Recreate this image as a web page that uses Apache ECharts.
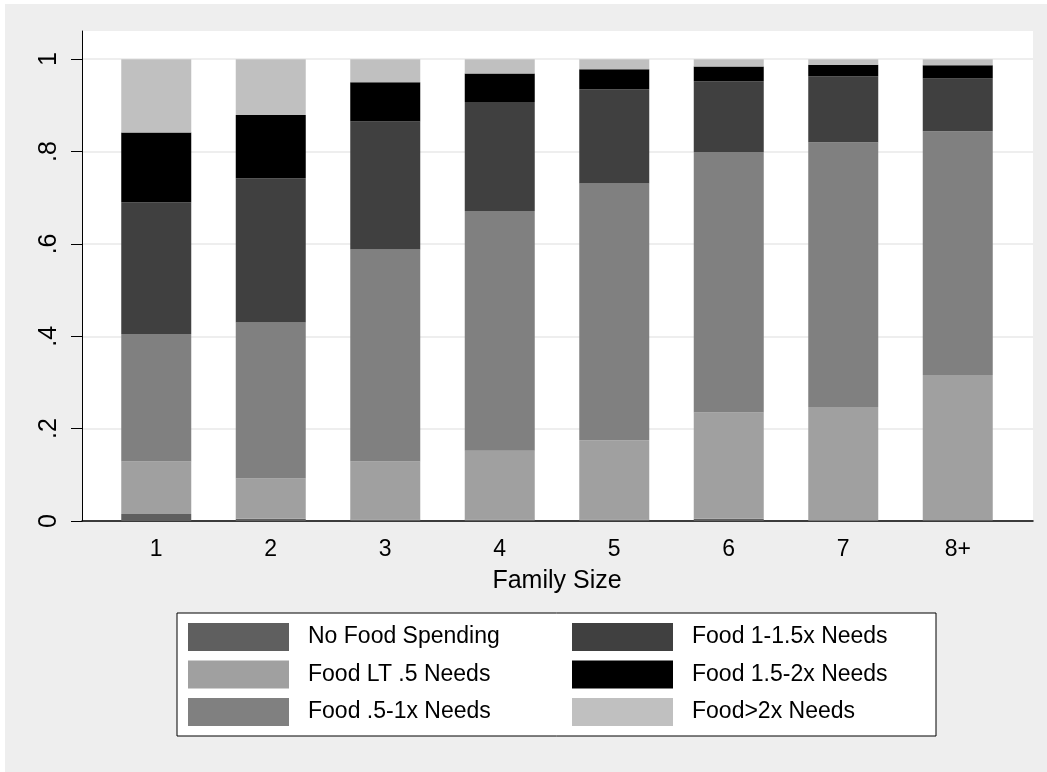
<!DOCTYPE html>
<html>
<head>
<meta charset="utf-8">
<script src="https://cdn.jsdelivr.net/npm/echarts@6/dist/echarts.min.js"></script>
<style>
  html, body { margin: 0; padding: 0; background: #fff; }
  #chart { width: 1047px; height: 772px; }
</style>
</head>
<body>
<div id="chart"></div>
<script>
// shares of households by food spending group, per family size
const familySizes = ['1', '2', '3', '4', '5', '6', '7', '8+'];
const noFood = [0.015, 0.005, 0.003, 0.003, 0.003, 0.005, 0.001, 0.002];
const ltHalf = [0.114, 0.087, 0.126, 0.149, 0.172, 0.230, 0.246, 0.314];
const halfToOne = [0.276, 0.338, 0.459, 0.519, 0.556, 0.564, 0.573, 0.528];
const oneToOneHalf = [0.285, 0.312, 0.277, 0.236, 0.204, 0.153, 0.143, 0.114];
const oneHalfToTwo = [0.151, 0.137, 0.085, 0.062, 0.043, 0.032, 0.025, 0.029];
const overTwo = [0.159, 0.121, 0.050, 0.031, 0.022, 0.016, 0.012, 0.013];

const yTickValues = [0, 0.2, 0.4, 0.6, 0.8, 1];
const yTickLabels = ['0', '.2', '.4', '.6', '.8', '1'];

const font = 'Liberation Sans, Arial, Helvetica, sans-serif';
const yMax = 1.061;

const chart = echarts.init(document.getElementById('chart'));

function makeSeries(name, values, color) {
    return {
        name: name,
        type: 'bar',
        stack: 'share',
        barWidth: 70,
        xAxisIndex: 1,
        yAxisIndex: 1,
        itemStyle: { color: color },
        emphasis: { disabled: true },
        data: values
    };
}

const legendBase = {
    orient: 'vertical',
    top: 618,
    itemWidth: 101,
    itemHeight: 28,
    itemGap: 9.5,
    icon: 'rect',
    selectedMode: false,
    textStyle: { fontFamily: font, fontSize: 23, color: '#000', padding: [0, 0, 0, 14] }
};

const option = {
    backgroundColor: '#ffffff',
    animation: false,
    graphic: [
        {
            type: 'rect',
            z: -10,
            shape: { x: 5, y: 4, width: 1042, height: 768 },
            style: { fill: '#eeeeee' }
        },
        {
            type: 'rect',
            z: -5,
            shape: { x: 177, y: 613, width: 759, height: 123 },
            style: { fill: '#ffffff', stroke: '#000000', lineWidth: 1 }
        }
    ],
    grid: [
        // full plot region: background, y axis, gridlines
        { left: 82, right: 14, top: 31, bottom: 251, show: true, backgroundColor: '#ffffff', borderWidth: 0 },
        // bar region: category bands
        { left: 99, right: 32, top: 31, bottom: 251 }
    ],
    xAxis: [
        {
            type: 'value',
            gridIndex: 0,
            min: 0,
            max: 1,
            axisLine: { show: true, onZero: false, lineStyle: { color: '#000', width: 1.5 } },
            axisTick: { show: false },
            axisLabel: { show: false },
            splitLine: { show: false }
        },
        {
            type: 'category',
            gridIndex: 1,
            data: familySizes,
            boundaryGap: true,
            name: 'Family Size',
            nameLocation: 'middle',
            nameGap: 48,
            nameTextStyle: { fontFamily: font, fontSize: 25, color: '#000' },
            axisLine: { show: false },
            axisTick: { show: false },
            splitLine: { show: false },
            axisLabel: { fontFamily: font, fontSize: 23, color: '#000', margin: 17 }
        }
    ],
    yAxis: [
        {
            type: 'value',
            gridIndex: 0,
            min: 0,
            max: yMax,
            interval: 0.2,
            axisLine: { show: true, lineStyle: { color: '#000', width: 1 } },
            axisTick: {
                show: true,
                customValues: yTickValues,
                length: 11,
                lineStyle: { color: '#000' }
            },
            splitLine: { show: true, lineStyle: { color: '#e8e8e8', width: 1.5 } },
            axisLabel: {
                customValues: yTickValues,
                formatter: v => {
                    const i = yTickValues.findIndex(t => Math.abs(t - v) < 1e-6);
                    return i >= 0 ? yTickLabels[i] : '';
                },
                rotate: 90,
                fontFamily: font,
                fontSize: 25,
                color: '#000',
                margin: 20
            }
        },
        {
            type: 'value',
            gridIndex: 1,
            min: 0,
            max: yMax,
            show: false,
            splitLine: { show: false }
        }
    ],
    legend: [
        Object.assign({}, legendBase, {
            left: 183,
            data: ['No Food Spending', 'Food LT .5 Needs', 'Food .5-1x Needs']
        }),
        Object.assign({}, legendBase, {
            left: 567,
            data: ['Food 1-1.5x Needs', 'Food 1.5-2x Needs', 'Food>2x Needs']
        })
    ],
    series: [
        makeSeries('No Food Spending', noFood, '#5f5f5f'),
        makeSeries('Food LT .5 Needs', ltHalf, '#a0a0a0'),
        makeSeries('Food .5-1x Needs', halfToOne, '#808080'),
        makeSeries('Food 1-1.5x Needs', oneToOneHalf, '#404040'),
        makeSeries('Food 1.5-2x Needs', oneHalfToTwo, '#000000'),
        makeSeries('Food>2x Needs', overTwo, '#c0c0c0')
    ]
};

option && chart.setOption(option);
</script>
</body>
</html>
